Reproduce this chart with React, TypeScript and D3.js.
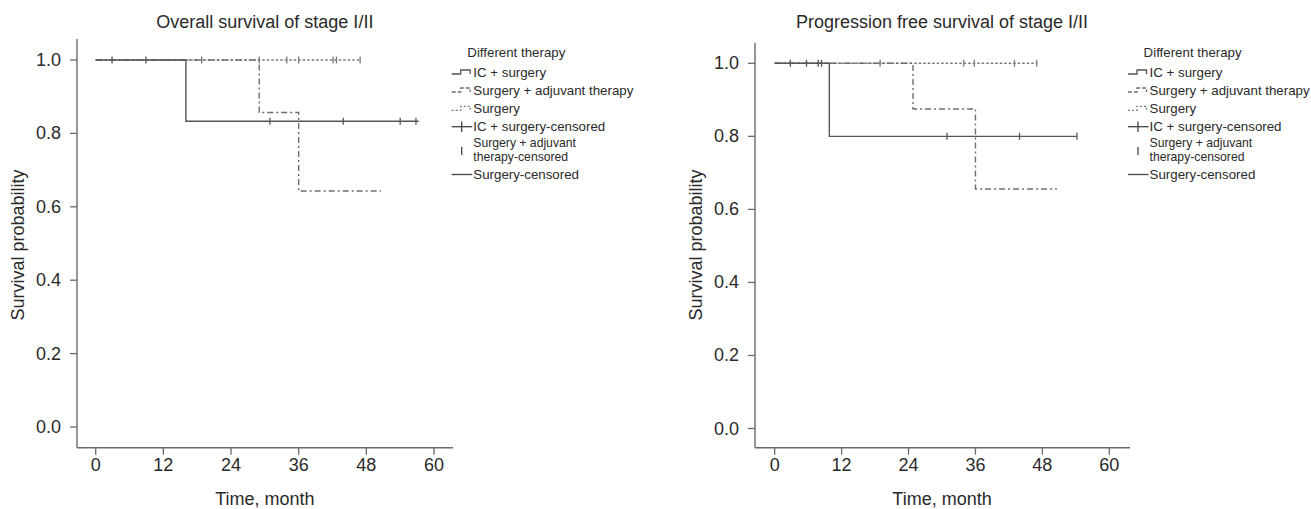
import React from "react";
import * as d3 from "d3";

// ---- data ----
const timeTicks = [0, 12, 24, 36, 48, 60];
const probTicks = [0, 0.2, 0.4, 0.6, 0.8, 1.0];
const legendTitle = "Different therapy";
const groupNames = ["IC + surgery", "Surgery + adjuvant therapy", "Surgery"];

// Overall survival
const osIcTimes = [0, 16];
const osIcSurv = [1, 0.833];
const osIcEnd = 57.3;
const osIcCensor = [2.9, 8.9, 30.9, 43.9, 54, 56.8];

const osAdjTimes = [0, 29, 36];
const osAdjSurv = [1, 0.857, 0.643];
const osAdjEnd = 50.6;
const osAdjCensor = [18.8];

const osSurTimes = [0];
const osSurSurv = [1];
const osSurEnd = 47;
const osSurCensor = [29, 33.9, 36, 42.1, 42.7, 46.9];

// Progression free survival
const pfsIcTimes = [0, 9.8];
const pfsIcSurv = [1, 0.8];
const pfsIcEnd = 54.2;
const pfsIcCensor = [2.8, 5.7, 7.8, 8.4, 30.9, 43.9, 54.2];

const pfsAdjTimes = [0, 24.8, 36];
const pfsAdjSurv = [1, 0.875, 0.656];
const pfsAdjEnd = 50.6;
const pfsAdjCensor = [18.9];

const pfsSurTimes = [0];
const pfsSurSurv = [1];
const pfsSurEnd = 47;
const pfsSurCensor = [33.9, 35.8, 43, 47];

// ---- styles ----
const FONT = "'Liberation Sans', Arial, Helvetica, sans-serif";
const TEXT = "#2a2a2a";
const AXIS = "#6a6a6a";
const styles = [
  { stroke: "#555", dash: undefined as string | undefined },
  { stroke: "#6e6e6e", dash: "6,3,2,3" },
  { stroke: "#7a7a7a", dash: "2.5,2" },
];

type Curve = { times: number[]; surv: number[]; end: number; censor: number[] };

function survAt(c: Curve, t: number) {
  let s = c.surv[0];
  for (let i = 0; i < c.times.length; i++) if (c.times[i] <= t) s = c.surv[i];
  return s;
}

type PanelProps = {
  title: string;
  curves: Curve[];
  axisX: number;
  axisY: number;
  axisTop: number;
  axisRight: number;
  x0: number;
  x60: number;
  y0: number;
  y1: number;
  legendX: number;
};

function Panel(p: PanelProps) {
  const x = d3.scaleLinear().domain([0, 60]).range([p.x0, p.x60]);
  const y = d3.scaleLinear().domain([0, 1]).range([p.y0, p.y1]);
  const line = d3
    .line<[number, number]>()
    .x((d) => x(d[0]))
    .y((d) => y(d[1]))
    .curve(d3.curveStepAfter);
  const cx = (p.x0 + p.x60) / 2;
  const order = [2, 1, 0];
  const lx = p.legendX;
  const rowY = [72, 90, 108.3];
  return (
    <g>
      <text x={cx} y={22} textAnchor="middle" dominantBaseline="central" fontSize={18} fill={TEXT}>
        {p.title}
      </text>
      <line x1={p.axisX} x2={p.axisX} y1={p.axisTop} y2={p.axisY} stroke={AXIS} strokeWidth={1.4} />
      <line x1={p.axisX} x2={p.axisRight} y1={p.axisY} y2={p.axisY} stroke={AXIS} strokeWidth={1.4} />
      {probTicks.map((v) => (
        <g key={"y" + v}>
          <line x1={p.axisX - 7} x2={p.axisX} y1={y(v)} y2={y(v)} stroke={AXIS} strokeWidth={1.3} />
          <text x={p.axisX - 16} y={y(v)} textAnchor="end" dominantBaseline="central" fontSize={18} fill={TEXT}>
            {d3.format(".1f")(v)}
          </text>
        </g>
      ))}
      {timeTicks.map((v) => (
        <g key={"x" + v}>
          <line x1={x(v)} x2={x(v)} y1={p.axisY} y2={p.axisY + 7} stroke={AXIS} strokeWidth={1.3} />
          <text x={x(v)} y={465} textAnchor="middle" dominantBaseline="central" fontSize={18} fill={TEXT}>
            {v}
          </text>
        </g>
      ))}
      <text x={cx} y={499} textAnchor="middle" dominantBaseline="central" fontSize={18} fill={TEXT}>
        Time, month
      </text>
      <text
        transform={`translate(${p.axisX - 59},245) rotate(-90)`}
        textAnchor="middle"
        dominantBaseline="central"
        fontSize={18}
        fill={TEXT}
      >
        Survival probability
      </text>
      {order.map((i) => {
        const c = p.curves[i];
        const pts: [number, number][] = c.times.map((t, k) => [t, c.surv[k]] as [number, number]);
        pts.push([c.end, c.surv[c.surv.length - 1]]);
        return (
          <g key={"c" + i}>
            <path
              d={line(pts) || ""}
              fill="none"
              stroke={styles[i].stroke}
              strokeWidth={1.4}
              strokeDasharray={styles[i].dash}
            />
            {c.censor.map((t, k) => (
              <line
                key={k}
                x1={x(t)}
                x2={x(t)}
                y1={y(survAt(c, t)) - 3.5}
                y2={y(survAt(c, t)) + 3.5}
                stroke={styles[i].stroke}
                strokeWidth={1.3}
              />
            ))}
          </g>
        );
      })}
      <g fontSize={13.3} fill={TEXT}>
        <text x={lx + 15.6} y={52.7} dominantBaseline="central">
          {legendTitle}
        </text>
        {groupNames.map((n, i) => (
          <g key={"l" + i}>
            <path
              d={`M${lx},${rowY[i] + 2} H${lx + 9} V${rowY[i] - 2} H${lx + 18.5} V${rowY[i] + 2}`}
              fill="none"
              stroke={styles[i].stroke}
              strokeWidth={1.3}
              strokeDasharray={i === 0 ? undefined : i === 1 ? "4,2" : "2,2"}
            />
            <text x={lx + 21.6} y={rowY[i]} dominantBaseline="central">
              {n}
            </text>
          </g>
        ))}
        <line x1={lx} x2={lx + 20.6} y1={126.7} y2={126.7} stroke="#444" strokeWidth={1.3} />
        <line x1={lx + 10} x2={lx + 10} y1={121.5} y2={132} stroke="#444" strokeWidth={1.3} />
        <text x={lx + 21.6} y={126.7} dominantBaseline="central">
          {groupNames[0] + "-censored"}
        </text>
        <line x1={lx + 10} x2={lx + 10} y1={147} y2={155} stroke="#444" strokeWidth={1.3} />
        <text x={lx + 21.6} y={143.2} dominantBaseline="central" fontSize={12.2}>
          Surgery + adjuvant
        </text>
        <text x={lx + 21.6} y={157.4} dominantBaseline="central" fontSize={12.2}>
          therapy-censored
        </text>
        <line x1={lx} x2={lx + 20.6} y1={174.5} y2={174.5} stroke="#444" strokeWidth={1.3} />
        <text x={lx + 21.6} y={174.5} dominantBaseline="central">
          {groupNames[2] + "-censored"}
        </text>
      </g>
    </g>
  );
}

export default function App() {
  const os: Curve[] = [
    { times: osIcTimes, surv: osIcSurv, end: osIcEnd, censor: osIcCensor },
    { times: osAdjTimes, surv: osAdjSurv, end: osAdjEnd, censor: osAdjCensor },
    { times: osSurTimes, surv: osSurSurv, end: osSurEnd, censor: osSurCensor },
  ];
  const pfs: Curve[] = [
    { times: pfsIcTimes, surv: pfsIcSurv, end: pfsIcEnd, censor: pfsIcCensor },
    { times: pfsAdjTimes, surv: pfsAdjSurv, end: pfsAdjEnd, censor: pfsAdjCensor },
    { times: pfsSurTimes, surv: pfsSurSurv, end: pfsSurEnd, censor: pfsSurCensor },
  ];
  return (
    <svg
      width={1311}
      height={509}
      style={{ position: "absolute", left: 0, top: 0, background: "#fff" }}
      fontFamily={FONT}
    >
      <Panel
        title="Overall survival of stage I/II"
        curves={os}
        axisX={77}
        axisY={447.7}
        axisTop={39}
        axisRight={453}
        x0={95.7}
        x60={434}
        y0={427}
        y1={60}
        legendX={451.7}
      />
      <Panel
        title="Progression free survival of stage I/II"
        curves={pfs}
        axisX={755}
        axisY={447.7}
        axisTop={43}
        axisRight={1130}
        x0={774.7}
        x60={1109.3}
        y0={428.5}
        y1={63.3}
        legendX={1128}
      />
    </svg>
  );
}
